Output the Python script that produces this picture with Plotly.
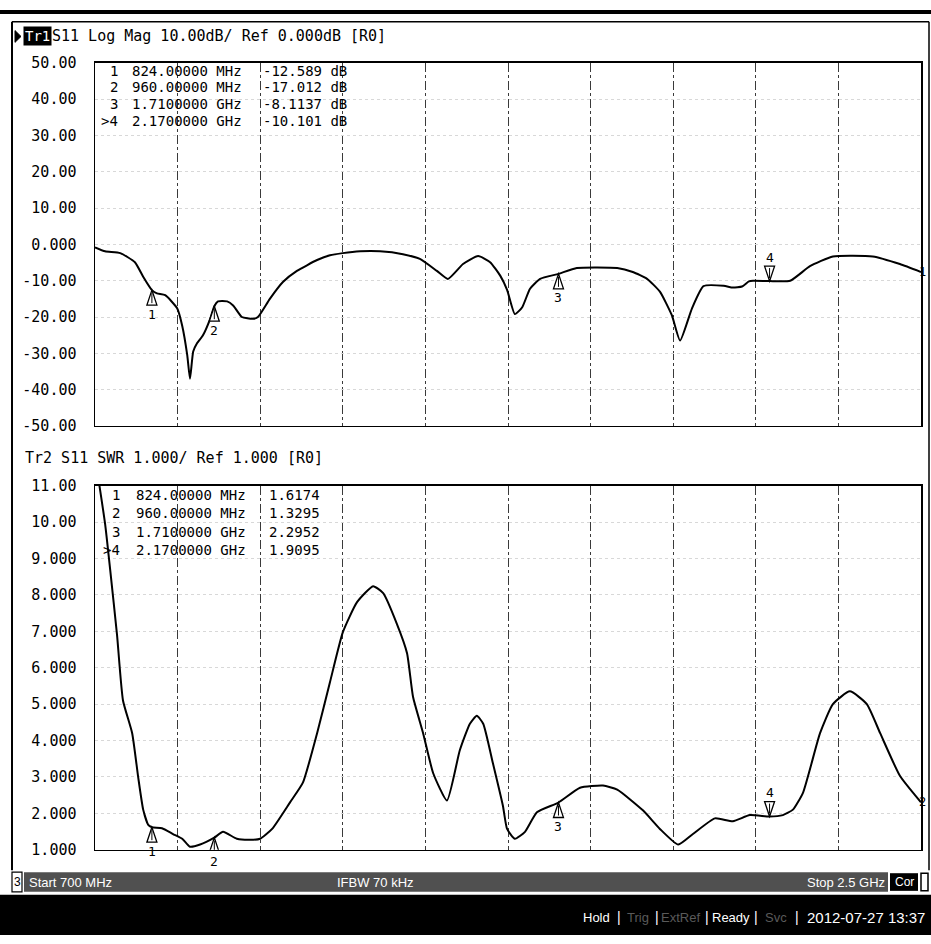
import plotly.graph_objects as go

W, H = 931, 944

# ---------------- data ----------------
F_START, F_STOP = 700, 2500                      # MHz
grid_freq = [880, 1060, 1240, 1420, 1600, 1780, 1960, 2140, 2320]

freq_s11 = [700, 722, 755, 787, 805, 824, 835, 853, 879, 890, 901, 907, 914, 922, 935,
            951, 960, 968, 988, 1001, 1020, 1044, 1055, 1081, 1110, 1140, 1184, 1212,
            1240, 1278, 1321, 1371, 1408, 1445, 1469, 1502, 1535, 1561, 1583, 1598,
            1615, 1631, 1648, 1670, 1710, 1750, 1838, 1872, 1903, 1931, 1957, 1975,
            2001, 2026, 2070, 2090, 2110, 2125, 2134, 2170, 2215, 2258, 2308, 2395,
            2454, 2500]
s11_db = [-0.8, -1.9, -2.4, -4.9, -8.9, -12.589, -13.5, -14.0, -17.6, -22.4, -30.5,
          -37.0, -29.5, -27.3, -25.1, -20.5, -17.012, -15.7, -15.7, -16.8, -20.0, -20.5,
          -20.0, -15.0, -10.3, -7.3, -4.3, -3.0, -2.4, -1.9, -1.9, -2.7, -4.0, -7.3,
          -9.5, -5.4, -3.2, -4.9, -8.6, -12.5, -19.2, -17.3, -12.2, -9.5, -8.1137, -6.5,
          -6.5, -7.6, -9.5, -13.0, -19.5, -26.5, -17.6, -11.5, -11.4, -11.9, -11.6,
          -10.2, -10.0, -10.101, -10.0, -6.0, -3.3, -3.3, -5.4, -7.6]

freq_swr = [700, 722, 733, 748, 761, 781, 794, 805, 816, 824, 846, 870, 890, 907, 929,
            960, 979, 1009, 1038, 1060, 1086, 1125, 1153, 1184, 1212, 1240, 1271, 1306,
            1328, 1358, 1380, 1393, 1415, 1437, 1467, 1495, 1517, 1532, 1546, 1567, 1589,
            1598, 1615, 1637, 1663, 1710, 1757, 1807, 1838, 1894, 1931, 1971, 2003, 2051,
            2090, 2127, 2170, 2199, 2221, 2243, 2280, 2308, 2345, 2382, 2411, 2454, 2500]
swr = [11.8, 9.95, 8.7, 6.9, 5.1, 4.2, 3.0, 2.1, 1.68, 1.6174, 1.59, 1.43, 1.3, 1.08,
       1.14, 1.3295, 1.49, 1.3, 1.27, 1.3, 1.57, 2.3, 2.84, 4.2, 5.6, 6.97, 7.8, 8.24,
       8.05, 7.2, 6.4, 5.2, 4.2, 3.1, 2.35, 3.73, 4.46, 4.68, 4.46, 3.38, 2.2, 1.57,
       1.3, 1.49, 2.03, 2.2952, 2.7, 2.76, 2.65, 2.08, 1.57, 1.14, 1.43, 1.86, 1.78,
       1.95, 1.9095, 1.95, 2.1, 2.57, 4.2, 5.0, 5.35, 5.0, 4.2, 3.03, 2.3]

marker_id = ["1", "2", "3", "4"]
marker_freq = [824, 960, 1710, 2170]
marker_freq_text = ["824.00000 MHz", "960.00000 MHz", "1.7100000 GHz", "2.1700000 GHz"]
marker_db = [-12.589, -17.012, -8.1137, -10.101]
marker_swr = [1.6174, 1.3295, 2.2952, 1.9095]
active_marker = 3

db_ticks = [50, 40, 30, 20, 10, 0, -10, -20, -30, -40, -50]
db_tick_text = ["50.00", "40.00", "30.00", "20.00", "10.00", "0.000",
                "-10.00", "-20.00", "-30.00", "-40.00", "-50.00"]
swr_ticks = [11, 10, 9, 8, 7, 6, 5, 4, 3, 2, 1]
swr_tick_text = ["11.00", "10.00", "9.000", "8.000", "7.000", "6.000",
                 "5.000", "4.000", "3.000", "2.000", "1.000"]

status_items = ["Hold", "Trig", "ExtRef", "Ready", "Svc"]
status_dim = [False, True, True, False, True]
timestamp = "2012-07-27 13:37"

assert len(freq_s11) == len(s11_db)
assert len(freq_swr) == len(swr)

# ---------------- geometry helpers (pixels -> paper) ----------------
def px(x):
    return x / W

def py(y):
    return 1 - y / H

LEFT, RIGHT = 95, 921
TOP1, BOT1 = 55, 425
TOP2, BOT2 = 486, 857

MONO = "DejaVu Sans Mono"
SANS = "Liberation Sans"

fig = go.Figure()
fig.add_trace(go.Scatter(x=freq_s11, y=s11_db, mode="lines",
                         line=dict(color="black", width=2, shape="spline", smoothing=0.5),
                         xaxis="x", yaxis="y", hoverinfo="skip", showlegend=False))
fig.add_trace(go.Scatter(x=freq_swr, y=swr, mode="lines",
                         line=dict(color="black", width=2, shape="spline", smoothing=0.5),
                         xaxis="x2", yaxis="y2", hoverinfo="skip", showlegend=False))

xcommon = dict(range=[F_START, F_STOP], tickvals=grid_freq, showticklabels=False,
               ticks="", showgrid=True, gridcolor="#3a3a3a", griddash="dashdot",
               gridwidth=1, showline=True, linecolor="black", linewidth=1.5,
               mirror=True, zeroline=False, fixedrange=True)
ycommon = dict(showgrid=True, gridcolor="#d8d8d8", griddash="dot", gridwidth=1,
               ticks="", ticklabelstandoff=14, showline=True, linecolor="black",
               linewidth=1.5, mirror=True, zeroline=False, fixedrange=True,
               tickfont=dict(family=MONO, size=15, color="black"))

fig.update_layout(
    width=W, height=H,
    margin=dict(l=0, r=0, t=0, b=0),
    paper_bgcolor="white", plot_bgcolor="white",
    showlegend=False, hovermode=False,
    xaxis=dict(domain=[px(LEFT), px(RIGHT)], anchor="y", **xcommon),
    yaxis=dict(domain=[py(BOT1), py(TOP1)], anchor="x", range=[-50, 50],
               tickvals=db_ticks, ticktext=db_tick_text, **ycommon),
    xaxis2=dict(domain=[px(LEFT), px(RIGHT)], anchor="y2", **xcommon),
    yaxis2=dict(domain=[py(BOT2), py(TOP2)], anchor="x2", range=[1, 11],
                tickvals=swr_ticks, ticktext=swr_tick_text, **ycommon),
)

shapes = []
annots = []

def pshape(xref, yref, xa, ya, path, fill="black", lw=1.2):
    shapes.append(dict(type="path", xref=xref, yref=yref, xsizemode="pixel",
                       ysizemode="pixel", xanchor=xa, yanchor=ya, path=path,
                       fillcolor=fill, line=dict(color="black", width=lw),
                       layer="above"))

def text(x, y, s, size=14, color="black", xanchor="left", family=MONO,
         bg=None, xref="paper", yref="paper", xshift=0, yshift=0):
    a = dict(x=x, y=y, xref=xref, yref=yref, text=s, showarrow=False,
             xanchor=xanchor, yanchor="middle", xshift=xshift, yshift=yshift,
             font=dict(family=family, size=size, color=color), borderpad=0)
    if bg:
        a["bgcolor"] = bg
        a["borderpad"] = 1
    annots.append(a)

def prect(x0, x1, y0, y1, fill, line_color=None, lw=0):
    shapes.append(dict(type="rect", xref="paper", yref="paper", x0=px(x0), x1=px(x1),
                       y0=py(y1), y1=py(y0), fillcolor=fill,
                       line=dict(color=line_color or fill, width=lw)))

def pline(x0, y0, x1, y1, w):
    shapes.append(dict(type="line", xref="paper", yref="paper", x0=px(x0), x1=px(x1),
                       y0=py(y0), y1=py(y1), line=dict(color="black", width=w)))

# -------- outer frame --------
pline(0, 3, W, 3, 4)
pline(12, 13, 929, 13, 1.5)
pline(12, 13, 12, 878, 2)
pline(929, 13, 929, 878, 1.5)

# -------- headers --------
shapes.append(dict(type="path", xref="paper", yref="paper",
                   path=f"M {px(15)} {py(22)} L {px(21)} {py(28)} L {px(15)} {py(34)} Z",
                   fillcolor="black", line=dict(color="black", width=1)))
text(px(23), py(28), "Tr1", size=14, color="white", bg="black")
text(px(51), py(28), "S11 Log Mag 10.00dB/ Ref 0.000dB [R0]", size=15)
text(px(24), py(458), "Tr2 S11 SWR 1.000/ Ref 1.000 [R0]", size=15)

# -------- reference arrows & trace numbers --------
for xr, yr, yref_val, end_val, lab in [("x", "y", 0, s11_db[-1], "1"),
                                       ("x2", "y2", 1, swr[-1], "2")]:
    pshape(xr, yr, F_START, yref_val, "M -8 7 L -1 0 L -8 -7 Z")
    pshape(xr, yr, F_STOP, yref_val, "M 10 8 L 2 0 L 10 -8 Z")
    text(px(927), end_val, lab, size=12, xanchor="right", yref=yr)

# -------- marker tables --------
def table(y0, dy, values, num_right, freq_left, val_left):
    for i in range(len(marker_id)):
        yy = y0 + dy * i
        num = (">" if i == active_marker else "") + marker_id[i]
        text(px(num_right), py(yy), num, size=14, xanchor="right")
        text(px(freq_left), py(yy), marker_freq_text[i], size=14)
        text(px(val_left), py(yy), values[i], size=14)

table(63, 17, [f"{v:.3f} dB" if abs(v) >= 10 else f"{v:.4f} dB" for v in marker_db],
      119, 131, 262)
table(495, 19, [f"{v:.4f}" for v in marker_swr], 121, 135, 268)

# -------- markers on traces and on axis --------
for i, f in enumerate(marker_freq):
    for xr, yr, val, ybottom in [("x", "y", marker_db[i], -50),
                                 ("x2", "y2", marker_swr[i], 1)]:
        if i == active_marker:
            pshape(xr, yr, f, val, "M 0 0 L -5 15 L 5 15 Z", fill="white", lw=1.3)
            pshape(xr, yr, f, val, "M 0 3 L 0 13", fill="black", lw=1)
            text(f, val, marker_id[i], size=13, xanchor="center",
                 xref=xr, yref=yr, yshift=24)
            pshape(xr, yr, f, ybottom, "M 0 -2 L -6 -12 L 6 -12 Z", fill="black")
        else:
            pshape(xr, yr, f, val, "M 0 0 L -5 -15 L 5 -15 Z", fill="white", lw=1.3)
            pshape(xr, yr, f, val, "M 0 -3 L 0 -13", fill="black", lw=1)
            text(f, val, marker_id[i], size=13, xanchor="center",
                 xref=xr, yref=yr, yshift=-24)
            pshape(xr, yr, f, ybottom, "M 0 -2 L -6 -12 L 6 -12 Z", fill="white")

# -------- channel status row --------
prect(24, 888, 880, 900, "#505050")
prect(12, 22, 880, 900, "white", "black", 1.2)
text(px(17), py(890), "3", size=12, xanchor="center", family=SANS)
text(px(28), py(890), "Start 700 MHz", size=13, color="white", family=SANS)
text(px(375), py(890), "IFBW 70 kHz", size=13, color="white", family=SANS,
     xanchor="center")
text(px(886), py(890), "Stop 2.5 GHz", size=13, color="white", family=SANS,
     xanchor="right")
prect(890, 918, 881, 899, "black")
text(px(904), py(890), "Cor", size=12, color="white", family=SANS, xanchor="center")
prect(921, 928, 881, 899, "white", "black", 1.5)

# -------- instrument status bar --------
prect(0, W, 903, H, "black")
item_centers = [596, 638, 680, 731, 776]
sep_x = [619, 657, 707, 756, 797]
for s, dim, xx in zip(status_items, status_dim, item_centers):
    text(px(xx), py(926), s, size=13, color="#5a5a5a" if dim else "white",
         family=SANS, xanchor="center")
for xx in sep_x:
    text(px(xx), py(926), "|", size=14, color="white", family=SANS, xanchor="center")
text(px(926), py(926), timestamp, size=15, color="white", family=SANS,
     xanchor="right")

fig.update_layout(shapes=shapes, annotations=annots)
fig.write_html(
    "out.html",
    config={"displayModeBar": False, "staticPlot": True},
    post_script="document.body.style.margin='0';"
                "document.body.style.padding='0';"
                "document.body.style.overflow='hidden';"
                "document.documentElement.style.overflow='hidden';",
)
